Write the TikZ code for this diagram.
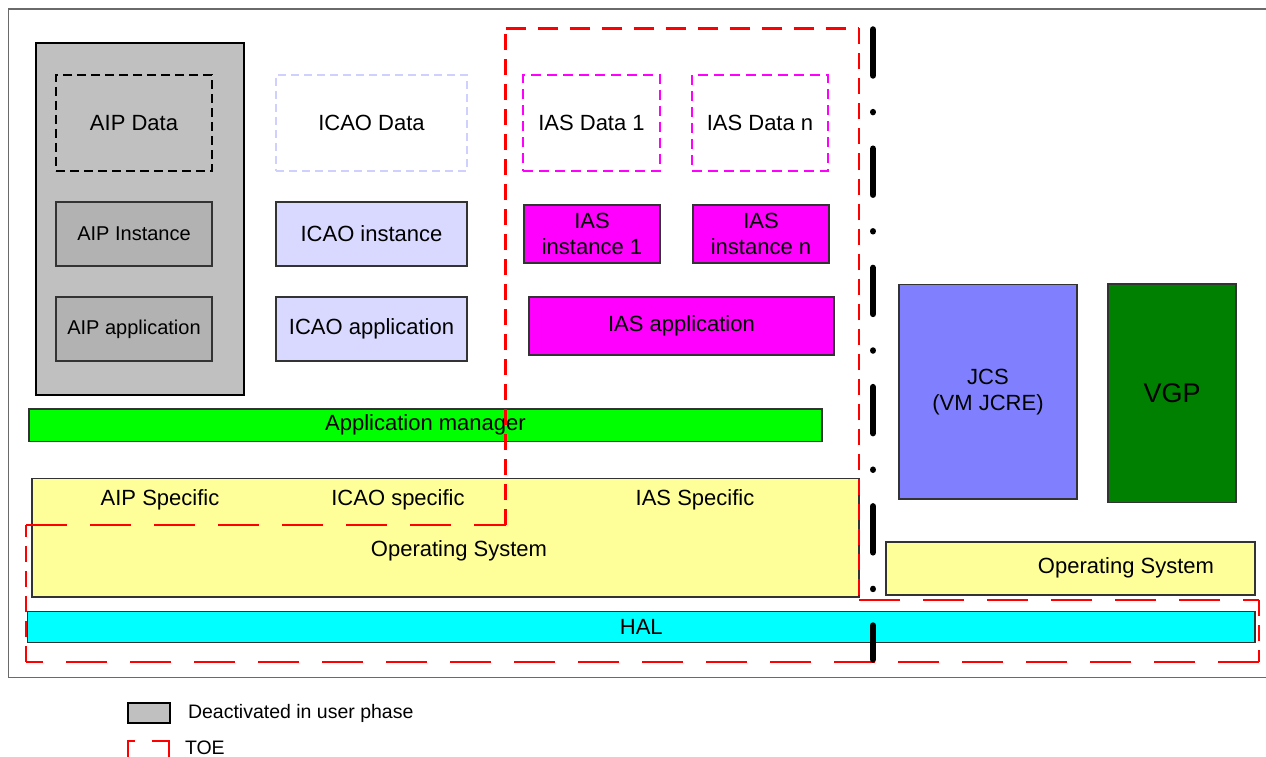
\documentclass[tikz,border=0pt]{standalone}
\usepackage{fontspec}
\setmainfont{Liberation Sans}
\definecolor{aipgray}{HTML}{C0C0C0}
\definecolor{aipin}{HTML}{B2B2B2}
\definecolor{lav}{HTML}{D9D9FF}
\definecolor{lavline}{HTML}{D0D0FF}
\definecolor{mag}{HTML}{FF00FF}
\definecolor{appgreen}{HTML}{00FF00}
\definecolor{osyellow}{HTML}{FFFF99}
\definecolor{halcyan}{HTML}{00FFFF}
\definecolor{jcsblue}{HTML}{8080FF}
\definecolor{vgpgreen}{HTML}{008000}
\definecolor{bord}{HTML}{333333}
\definecolor{framegray}{HTML}{6A6A6A}
\tikzset{
  base/.style={inner sep=0pt, outer sep=0pt, align=center, font=\fontsize{22}{26}\selectfont},
  box/.style={base, draw=bord, line width=1.3pt},
  smallt/.style={font=\fontsize{20}{24}\selectfont},
  databox/.style={base, line width=2pt, dash pattern=on 9pt off 5pt},
  txt/.style={inner sep=0pt, outer sep=0pt, font=\fontsize{22}{26}\selectfont},
  toe/.style={draw=red, line width=2.2pt},
  sep/.style={draw=black, line width=6.5pt, line cap=round, dash pattern=on 46pt off 36.6pt on 0.01pt off 36.6pt},
}
\begin{document}
\begin{tikzpicture}[x=1pt, y=-1pt]
\useasboundingbox (0,0) rectangle (1266,757);
\fill[white] (0,0) rectangle (1266,757);
% outer frame
\draw[framegray, line width=1.6pt] (1266,9) -- (8.5,9) -- (8.5,677.5) -- (1266,677.5);

% AIP group
\node[box, draw=black, line width=2.6pt, fill=aipgray, minimum width=208, minimum height=352] (aipgrp) at (140,219) {};
\node[databox, draw=black, minimum width=156, minimum height=96] (aipdata) at (134,123) {AIP Data};
\node[box, smallt, fill=aipin, minimum width=156, minimum height=64] (aipinst) at (134,234) {AIP Instance};
\node[box, smallt, fill=aipin, minimum width=156, minimum height=64] (aipapp) at (134,329) {AIP application};

% ICAO
\node[databox, draw=lavline, dash pattern=on 8pt off 5pt, minimum width=191, minimum height=96] (icaodata) at (371.5,123) {ICAO Data};
\node[box, fill=lav, minimum width=191, minimum height=64] (icaoinst) at (371.5,234) {ICAO instance};
\node[box, fill=lav, minimum width=191, minimum height=64] (icaoapp) at (371.5,329) {ICAO application};

% IAS
\node[databox, draw=mag, dash pattern=on 10pt off 6pt, minimum width=137, minimum height=96] (ias1data) at (591.5,123) {IAS Data 1};
\node[databox, draw=mag, dash pattern=on 10pt off 6pt, minimum width=136, minimum height=96] (iasndata) at (760,123) {IAS Data n};
\node[box, fill=mag, minimum width=136, minimum height=58] (ias1inst) at (592,234) {IAS\\instance 1};
\node[box, fill=mag, minimum width=136, minimum height=58] (iasninst) at (761,234) {IAS\\instance n};
\node[box, fill=mag, minimum width=305, minimum height=58] (iasapp) at (681.5,326) {IAS application};

% application manager
\node[box, fill=appgreen, minimum width=793, minimum height=32.5] (appmgr) at (425.5,425.3) {Application manager};

% operating system (left)
\node[box, fill=osyellow, minimum width=827, minimum height=118.5] (os) at (445.5,537.7) {};
\node[txt] (aipspec) at (160,500) {AIP Specific};
\node[txt] (icaospec) at (398,500) {ICAO specific};
\node[txt] (iasspec) at (695,500) {IAS Specific};
\node[txt] (ostext) at (459,551) {Operating System};

% HAL
\node[box, fill=halcyan, minimum width=1227.3, minimum height=31] (hal) at (641.3,627) {HAL};

% JCS, VGP
\node[box, fill=jcsblue, minimum width=178, minimum height=214.7] (jcs) at (988,391.7) {JCS\\(VM JCRE)};
\node[box, fill=vgpgreen, font=\fontsize{27}{30}\selectfont, minimum width=128, minimum height=218.7] (vgp) at (1172,393.4) {VGP};

% operating system (right)
\node[box, fill=osyellow, minimum width=369, minimum height=53] (os2) at (1070.5,568.5) {};
\node[txt] (os2text) at (1126,567.5) {Operating System};

% TOE boundary
\coordinate (t1) at (26,525);
\coordinate (t2) at (505.5,525);
\coordinate (t3) at (505.5,28.5);
\coordinate (t4) at (859,28.5);
\coordinate (t5) at (859,600);
\coordinate (t6) at (1259,600);
\coordinate (t7) at (1259,662);
\coordinate (t8) at (26,662);
\draw[toe, dash pattern=on 41pt off 23pt] (t1) -- (t2);
\draw[toe, dash pattern=on 16pt off 9pt] (t2) -- (t3);
\draw[toe, dash pattern=on 20pt off 12pt] (t3) -- (t4);
\draw[toe, dash pattern=on 16pt off 9pt] (t4) -- (t5);
\draw[toe, dash pattern=on 41pt off 23pt] (t5) -- (t6);
\draw[toe, dash pattern=on 16pt off 9pt] (t6) -- (t7);
\draw[toe, dash pattern=on 41pt off 23pt] (t7) -- (t8);
\draw[toe, dash pattern=on 16pt off 9pt] (t8) -- (t1);

% separator (dash-dot)
\coordinate (s1) at (873,29.5);
\coordinate (s2) at (873,659.5);
\draw[sep] (s1) -- (s2);

% legend
\node[box, draw=black, line width=2.6pt, fill=aipgray, minimum width=42, minimum height=20] (legdeact) at (149,712.8) {};
\node[txt, font=\fontsize{19.5}{23}\selectfont, anchor=west] (legdeacttxt) at (188,713) {Deactivated in user phase};
\coordinate (l1) at (127.5,760);
\coordinate (l2) at (127.5,741);
\coordinate (l3) at (169,741);
\coordinate (l4) at (169,760);
\draw[toe, line width=2pt, dash pattern=on 26pt off 17pt on 100pt] (l1) -- (l2) -- (l3) -- (l4);
\node[txt, font=\fontsize{19.5}{23}\selectfont, anchor=west] (legtoe) at (185,748) {TOE};
\end{tikzpicture}
\end{document}
